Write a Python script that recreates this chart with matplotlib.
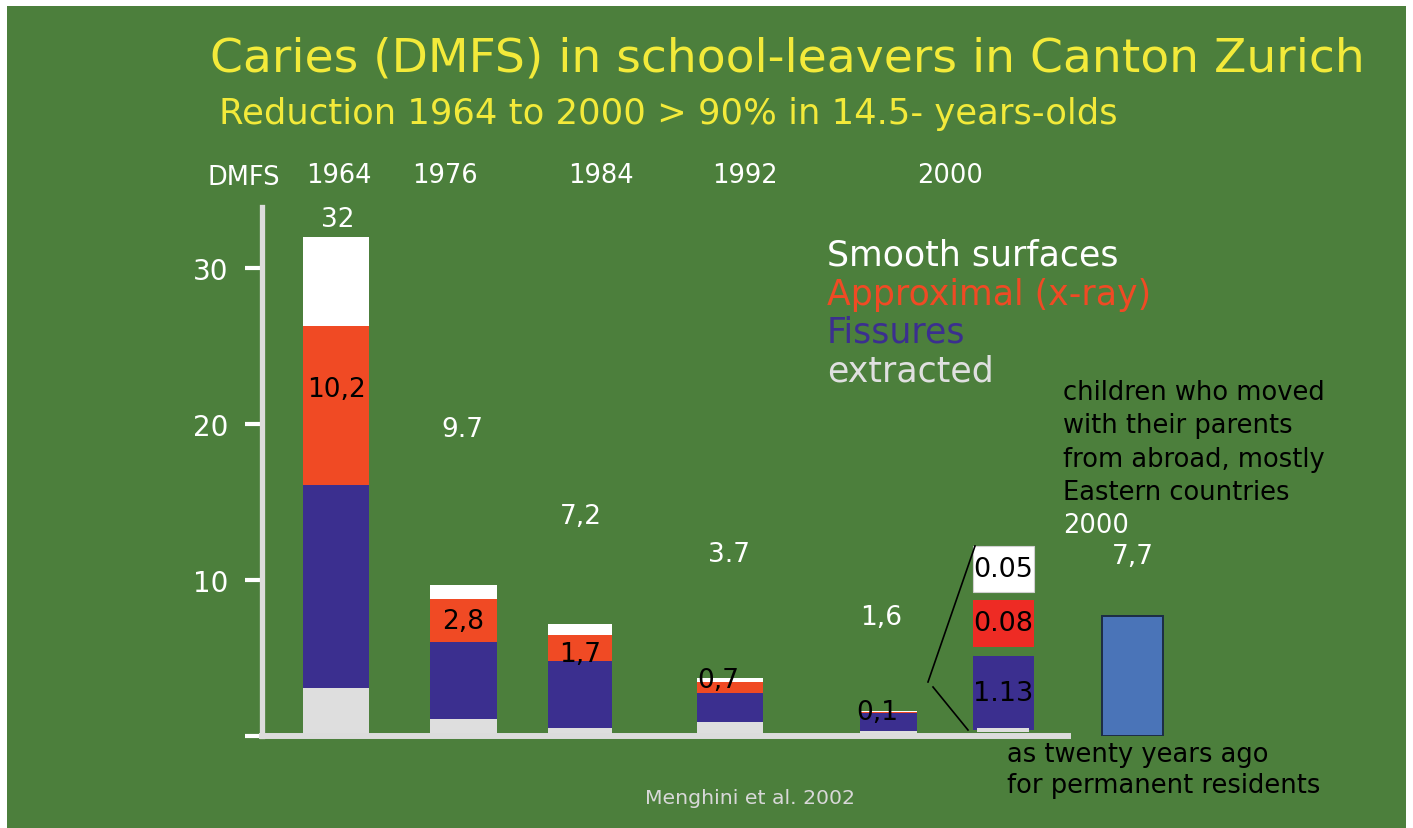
import matplotlib
matplotlib.use("Agg")
import matplotlib.pyplot as plt
from matplotlib.patches import Rectangle
from matplotlib.lines import Line2D

# ---- data -------------------------------------------------------------
years = ["1964", "1976", "1984", "1992", "2000"]
extracted = [3.1, 1.1, 0.5, 0.9, 0.34]
fissures = [13.0, 4.9, 4.3, 1.85, 1.13]
approximal = [10.2, 2.8, 1.7, 0.7, 0.08]
smooth = [5.7, 0.9, 0.7, 0.25, 0.05]
total_labels = ["32", "9.7", "7,2", "3.7", "1,6"]
approximal_labels = ["10,2", "2,8", "1,7", "0,7", "0,1"]

# 2000 detail (fissures, approximal, smooth surfaces)
detail_2000 = [1.13, 0.08, 0.05]

immigrant_value = 7.7
immigrant_label = "7,7"

yticks = [0, 10, 20, 30]
ytick_labels = ["", "10", "20", "30"]

legend_labels = ["Smooth surfaces", "Approximal (x-ray)", "Fissures", "extracted"]

# ---- style / layout ----------------------------------------------------
W, H = 1413, 829
GREEN = "#4c7f3c"
C_SMOOTH = "#ffffff"
C_APPROX = "#f04a24"
C_FISS = "#3b2f8f"
C_EXTR = "#dedede"
C_AXIS = "#dcdcdc"
YELLOW = "#f3ea3a"


def fx(x):
    return x / W


def fy(y):
    return 1 - y / H


fig = plt.figure(figsize=(W / 100, H / 100), dpi=100)
fig.patch.set_facecolor("white")
fig.patches.append(Rectangle((fx(7), 0), fx(1406) - fx(7), fy(7), transform=fig.transFigure,
                             facecolor=GREEN, edgecolor="none", zorder=-10))

ax = fig.add_axes([fx(262), fy(737), fx(1170) - fx(262), fy(208) - fy(737)])
ax.set_zorder(2)
ax.patch.set_visible(False)
ax.set_xlim(0, 908)
ax.set_ylim(0, 33.9)

bar_x = [74, 201, 318, 468, 626]
bar_w = [66, 67, 64, 66, 57]
immigrant_x = 870
immigrant_w = 61

bottom = [0.0] * len(years)
segments = [(extracted, C_EXTR), (fissures, C_FISS), (approximal, C_APPROX), (smooth, C_SMOOTH)]
approx_bottom = None
for vals, col in segments:
    if vals is approximal:
        approx_bottom = list(bottom)
    ax.bar(bar_x, vals, width=bar_w, bottom=bottom, color=col, linewidth=0, zorder=2)
    bottom = [b + v for b, v in zip(bottom, vals)]
totals = bottom

# labels inside the approximal segment
approx_dx = [0, 0, 0, -12, -11]
approx_dy = [16, 0, -6, 8, 0]
for i, lab in enumerate(approximal_labels):
    yc = approx_bottom[i] + approximal[i] / 2
    ax.annotate(lab, (bar_x[i], yc), xytext=(approx_dx[i], approx_dy[i]),
                textcoords="offset pixels", ha="center", va="center",
                fontsize=19, color="black", zorder=4)

# total labels above the bars
total_dx = [2, -1, 1, -1, -7]
total_dy = [18, 156, 108, 124, 94]
for i, lab in enumerate(total_labels):
    ax.annotate(lab, (bar_x[i], totals[i]), xytext=(total_dx[i], total_dy[i]),
                textcoords="offset pixels", ha="center", va="center",
                fontsize=19, color="white", zorder=4)

# immigrant children bar
ax.bar([immigrant_x], [immigrant_value], width=immigrant_w, color="#4a74b8",
       edgecolor="#1c2c44", linewidth=1.4, zorder=2)
ax.annotate(immigrant_label, (immigrant_x, immigrant_value), xytext=(1, 60),
            textcoords="offset pixels", ha="center", va="center",
            fontsize=19, color="white", zorder=4)

# axes styling
for s in ["top", "right"]:
    ax.spines[s].set_visible(False)
ax.spines["left"].set_color(C_AXIS)
ax.spines["left"].set_linewidth(3.8)
ax.spines["bottom"].set_color(C_AXIS)
ax.spines["bottom"].set_linewidth(4.3)
ax.spines["bottom"].set_bounds(0, 806)
ax.spines["bottom"].set_zorder(3)
ax.set_xticks([])
ax.set_yticks(yticks)
ax.set_yticklabels(ytick_labels)
ax.tick_params(axis="y", colors="white", length=12, width=3, pad=12, labelsize=20,
               labelcolor="white")

# ---- enlarged view of the 2000 bar -----------------------------------
box_rows = [(657, 731, C_FISS), (601, 648, "#ee2b24"), (547, 593, "white")]
for (top, bot, col), val in zip(box_rows, detail_2000):
    fig.patches.append(Rectangle((fx(973), fy(bot)), fx(1034) - fx(973), fy(top) - fy(bot),
                                 transform=fig.transFigure, facecolor=col,
                                 edgecolor="#d0d0d0" if col == "white" else "none",
                                 linewidth=0.8, zorder=5))
    fig.text(fx(1003.5), fy((top + bot) / 2), f"{val:g}", ha="center", va="center",
             fontsize=19.5, color="black", zorder=6)
fig.patches.append(Rectangle((fx(977), fy(733)), fx(1029) - fx(977), fy(729) - fy(733),
                             transform=fig.transFigure, facecolor=C_EXTR,
                             edgecolor="none", zorder=5))
fig.lines.append(Line2D([fx(975), fx(928)], [fy(547), fy(683)], transform=fig.transFigure,
                        color="black", linewidth=1.2, zorder=6))
fig.lines.append(Line2D([fx(933), fx(968)], [fy(688), fy(731)], transform=fig.transFigure,
                        color="black", linewidth=1.2, zorder=6))

# ---- texts ------------------------------------------------------------
fig.text(fx(210), fy(59), "Caries (DMFS) in school-leavers in Canton Zurich",
         ha="left", va="center", fontsize=34, color=YELLOW)
fig.text(fx(219), fy(114), "Reduction 1964 to 2000 > 90% in 14.5- years-olds",
         ha="left", va="center", fontsize=25.5, color=YELLOW)

fig.text(fx(244), fy(178), "DMFS", ha="center", va="center", fontsize=18.5, color="white")
year_text_x = [339, 445, 601, 745, 950]
for yx, yr in zip(year_text_x, years):
    fig.text(fx(yx), fy(176), yr, ha="center", va="center", fontsize=18.5, color="white")

legend_colors = [C_SMOOTH, C_APPROX, C_FISS, "#e0e0e0"]
legend_y = [255, 295, 333, 372]
for lab, col, ly in zip(legend_labels, legend_colors, legend_y):
    fig.text(fx(827), fy(ly), lab, ha="left", va="center", fontsize=25, color=col)

note_lines = ["children who moved", "with their parents", "from abroad, mostly",
              "Eastern countries"]
for k, line in enumerate(note_lines):
    fig.text(fx(1063), fy(393 + 33.5 * k), line, ha="left", va="center",
             fontsize=18.5, color="black")
fig.text(fx(1063), fy(526), "2000", ha="left", va="center", fontsize=18.5, color="white")

fig.text(fx(1007), fy(755), "as twenty years ago", ha="left", va="center",
         fontsize=18.5, color="black")
fig.text(fx(1007), fy(786), "for permanent residents", ha="left", va="center",
         fontsize=18.5, color="black")

fig.text(fx(750), fy(799), "Menghini et al. 2002", ha="center", va="center",
         fontsize=14.7, color="#d8d8d8")

fig.savefig("out.png", dpi=100, facecolor=fig.get_facecolor())
